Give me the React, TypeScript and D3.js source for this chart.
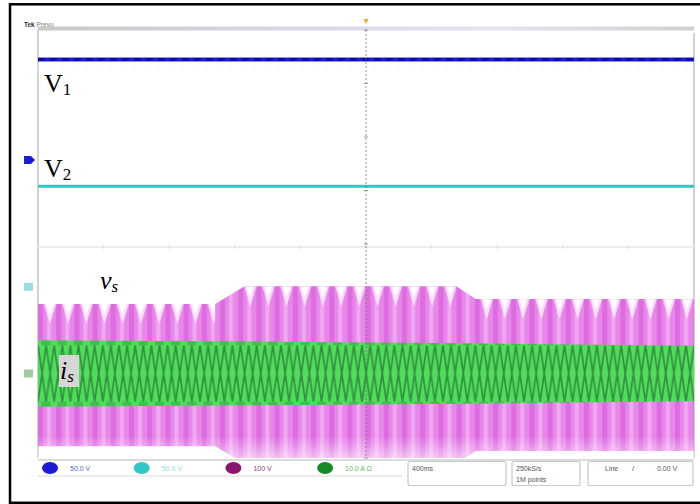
import React from 'react';
import * as d3 from 'd3';

// ---------------- data ----------------
const divisionsX = [0, 1, 2, 3, 4, 5, 6, 7, 8, 9, 10];
const divisionsY = [-4, -3, -2, -1, 0, 1, 2, 3, 4];
const secondsPerDiv = 0.4;

const channelIds = ['1', '2', '3', '4'];
const channelScaleLabels = ['50.0 V', '50.0 V', '100 V', '10.0 A \u03A9'];
const channelUnitsPerDiv = [50, 50, 100, 10];
const channelOffsetDiv = [1.57, -0.8, -2.45, -2.42];

const v1Times = [0, 4];
const v1Volts = [94, 94];
const v2Times = [0, 4];
const v2Volts = [94, 94];
const vsTimes = [0, 1.08, 1.26, 2.55, 2.67, 4];
const vsPeakVolts = [133, 133, 166, 166, 142, 142];
const isTimes = [0, 2, 4];
const isPeakAmps = [6.2, 5.8, 5.2];

const headerLabel = 'Tek Prevu';
const timebaseLabel = '400ms';
const acquisitionLabels = ['250kS/s', '1M points'];
const triggerLabels = ['Line', '/', '0.00 V'];

// ---------------- styles ----------------
const W = 700;
const H = 504;
const PLOT = { left: 38, right: 694, top: 30, bottom: 458 };
const chColors = ['#1c1cd6', '#33c6c6', '#8a1670', '#168a24'];
const chTextColors = ['#5566d8', '#86dede', '#8a3a80', '#5cba5c'];
const serif = '"Liberation Serif", "Times New Roman", serif';
const sans = '"Liberation Sans", Arial, sans-serif';

export default function App() {
  const x = d3
    .scaleLinear()
    .domain([0, divisionsX[divisionsX.length - 1] * secondsPerDiv])
    .range([PLOT.left, PLOT.right]);
  const y = d3
    .scaleLinear()
    .domain([divisionsY[0], divisionsY[divisionsY.length - 1]])
    .range([PLOT.bottom, PLOT.top]);
  const yCh = (ch: number, v: number) =>
    y(channelOffsetDiv[ch] + v / channelUnitsPerDiv[ch]);

  const line = (times: number[], vals: number[], ch: number) =>
    d3
      .line<number>()
      .x((_, i) => x(times[i]))
      .y((v) => yCh(ch, v))(vals) || '';

  const vsIdx = vsTimes.map((_, i) => i);
  const vsArea =
    d3
      .area<number>()
      .x((i) => x(vsTimes[i]))
      .y0((i) => yCh(2, -vsPeakVolts[i]))
      .y1((i) => yCh(2, vsPeakVolts[i]))(vsIdx) || '';

  const isIdx = isTimes.map((_, i) => i);
  const isArea =
    d3
      .area<number>()
      .x((i) => x(isTimes[i]))
      .y0((i) => yCh(3, -isPeakAmps[i]))
      .y1((i) => yCh(3, isPeakAmps[i]))
      .curve(d3.curveMonotoneX)(isIdx) || '';

  // flat segments of the vs envelope for the top-edge notch texture
  const flatSegs: { x0: number; x1: number; top: number }[] = [];
  for (let i = 0; i < vsTimes.length - 1; i++) {
    if (vsPeakVolts[i] === vsPeakVolts[i + 1]) {
      flatSegs.push({
        x0: x(vsTimes[i]),
        x1: x(vsTimes[i + 1]),
        top: yCh(2, vsPeakVolts[i]),
      });
    }
  }

  const cx = x(divisionsX[5] * secondsPerDiv);
  const cy = y(0);
  const isTop = yCh(3, isPeakAmps[0]);
  const isBottom = yCh(3, -isPeakAmps[0]);
  const isH = isBottom - isTop;

  const rowY = 468;

  return (
    <svg
      width={W}
      height={H}
      style={{ position: 'absolute', left: 0, top: 0, background: '#fff' }}
      xmlns="http://www.w3.org/2000/svg"
    >
      <defs>
        <clipPath id="plotClip">
          <rect
            x={PLOT.left}
            y={PLOT.top}
            width={PLOT.right - PLOT.left}
            height={PLOT.bottom - PLOT.top}
          />
        </clipPath>
        <pattern id="vsStripe" patternUnits="userSpaceOnUse" x={PLOT.left} y={0} width={18.2} height={10}>
          <rect width={18.2} height={10} fill="#e886ea" />
          <rect x={0} width={5} height={10} fill="#dc6ce0" />
          <rect x={9} width={4} height={10} fill="#f4c0f4" opacity={0.6} />
        </pattern>
        {flatSegs.map((s, i) => (
          <pattern
            key={i}
            id={`notch${i}`}
            patternUnits="userSpaceOnUse"
            x={PLOT.left}
            y={s.top}
            width={18.2}
            height={400}
          >
            <polygon points="6,0 18.2,0 12,20" fill="#ffffff" opacity={0.7} />
            <polygon points="8,0 16,0 12,10" fill="#ffffff" />
          </pattern>
        ))}
        <linearGradient id="bottomFade" x1="0" y1="0" x2="0" y2="1">
          <stop offset="0" stopColor="#fff" stopOpacity={0} />
          <stop offset="1" stopColor="#fff" stopOpacity={0.55} />
        </linearGradient>
        <pattern id="isTex" patternUnits="userSpaceOnUse" x={PLOT.left} y={isTop} width={16.2} height={isH}>
          <rect width={16.2} height={isH} fill="#52dc5c" />
          <path
            d={`M0,5 L8.1,${isH - 5} L16.2,5 M0,${isH - 5} L8.1,5 L16.2,${isH - 5}`}
            stroke="#30913e"
            strokeWidth={1.7}
            fill="none"
          />
          <rect x={3.5} y={0} width={9} height={5} fill="#34963f" opacity={0.45} />
          <rect x={3.5} y={isH - 5} width={9} height={5} fill="#34963f" opacity={0.45} />
        </pattern>
        <linearGradient id="topBar" x1="0" y1="0" x2="1" y2="0">
          <stop offset="0" stopColor="#c8c8c8" />
          <stop offset="0.45" stopColor="#dcd8ea" />
          <stop offset="0.7" stopColor="#e6e2f0" />
          <stop offset="1" stopColor="#d0d0d0" />
        </linearGradient>
      </defs>

      {/* outer frame */}
      <rect x={10} y={4.3} width={700} height={498.5} fill="#fff" stroke="#000" strokeWidth={2.5} />

      {/* header */}
      <text x={24} y={27} fontFamily={sans} fontSize={6.5} fill="#333">
        <tspan fontWeight="bold">Tek</tspan>
        <tspan fill="#777"> {headerLabel.split(' ')[1]}</tspan>
      </text>
      <rect x={PLOT.left} y={26.5} width={PLOT.right - PLOT.left} height={4} fill="url(#topBar)" />
      <polygon points={`${cx - 2.5},19 ${cx + 2.5},19 ${cx},24`} fill="#f0a828" />

      {/* plot borders */}
      <line x1={PLOT.left} y1={PLOT.top} x2={PLOT.left} y2={PLOT.bottom} stroke="#c4c4c4" strokeWidth={1.5} />
      <line x1={PLOT.right} y1={PLOT.top + 3} x2={PLOT.right} y2={PLOT.bottom} stroke="#c4c4c4" strokeWidth={1.5} />

      {/* center horizontal graticule */}
      <line x1={PLOT.left} y1={cy + 3} x2={PLOT.right} y2={cy + 3} stroke="#ececec" strokeWidth={2} />
      {divisionsX.map((d) => (
        <line
          key={d}
          x1={x(d * secondsPerDiv)}
          x2={x(d * secondsPerDiv)}
          y1={cy + 1}
          y2={cy + 5}
          stroke="#dcdcdc"
          strokeWidth={1}
        />
      ))}
      {/* faint dotted row under V1 */}
      <line x1={PLOT.left} y1={70} x2={PLOT.right} y2={70} stroke="#f0f3f5" strokeWidth={1.5} strokeDasharray="2,10" />

      {/* traces */}
      <g clipPath="url(#plotClip)">
        <path d={vsArea} fill="url(#vsStripe)" />
        {flatSegs.map((s, i) => (
          <rect key={i} x={s.x0} y={s.top} width={s.x1 - s.x0} height={22} fill={`url(#notch${i})`} />
        ))}
        <rect x={PLOT.left} y={PLOT.bottom - 22} width={PLOT.right - PLOT.left} height={22} fill="url(#bottomFade)" />
        <path d={isArea} fill="url(#isTex)" />

        <path d={line(v1Times, v1Volts, 0)} stroke={chColors[0]} strokeWidth={4} fill="none" />
        <path
          d={line(v1Times, v1Volts, 0)}
          stroke="#0a0a96"
          strokeWidth={2.2}
          strokeDasharray="7,5"
          fill="none"
        />
        <path d={line(v2Times, v2Volts, 1)} stroke={chColors[1]} strokeWidth={3} fill="none" />
      </g>

      {/* center vertical graticule */}
      <line x1={cx} y1={PLOT.top} x2={cx} y2={PLOT.bottom} stroke="#6a6a6a" strokeWidth={1} strokeDasharray="2,2" opacity={0.7} />
      {divisionsY.map((d) => (
        <line key={d} x1={cx - 2} x2={cx + 2} y1={y(d)} y2={y(d)} stroke="#999" strokeWidth={1} />
      ))}

      {/* channel ground markers */}
      <path
        d={`M24,${yCh(0, 0) - 4} L31,${yCh(0, 0) - 4} L35,${yCh(0, 0)} L31,${yCh(0, 0) + 4} L24,${yCh(0, 0) + 4} Z`}
        fill={chColors[0]}
      />
      <rect x={24} y={yCh(1, 0) - 4} width={9} height={8} fill="#9edce4" />
      <rect x={24} y={yCh(3, 0) - 4} width={9} height={8} fill="#a0cca0" />

      {/* trace labels */}
      <text x={44} y={92} fontFamily={serif} fontSize={26} fill="#000">
        V<tspan fontSize={17} dy={3}>1</tspan>
      </text>
      <text x={44} y={177} fontFamily={serif} fontSize={26} fill="#000">
        V<tspan fontSize={17} dy={3}>2</tspan>
      </text>
      <text x={100} y={289} fontFamily={serif} fontStyle="italic" fontSize={26} fill="#000">
        v<tspan fontSize={17} dy={3}>s</tspan>
      </text>
      <rect x={59} y={355} width={20} height={32} fill="#d6d6d6" />
      <text x={60} y={379} fontFamily={serif} fontStyle="italic" fontSize={26} fill="#000">
        i<tspan fontSize={17} dy={3}>s</tspan>
      </text>

      {/* status row */}
      <line x1={PLOT.left} y1={PLOT.bottom + 2} x2={PLOT.right} y2={PLOT.bottom + 2} stroke="#cfcfcf" strokeWidth={1.5} />
      <line x1={PLOT.left} y1={476} x2={402} y2={476} stroke="#dadada" strokeWidth={1} />
      {channelIds.map((id, i) => {
        const px = 50 + i * 91.7;
        return (
          <g key={id}>
            <ellipse cx={px} cy={rowY} rx={8} ry={6} fill={chColors[i]} />
            <text x={px + 20} y={rowY + 2.5} fontFamily={sans} fontSize={7} fill={chTextColors[i]}>
              {channelScaleLabels[i]}
            </text>
          </g>
        );
      })}
      <rect x={408} y={461.5} width={98} height={24} fill="#fff" stroke="#c8c8c8" strokeWidth={1.2} rx={2} />
      <text x={412} y={471} fontFamily={sans} fontSize={7} fill="#555">
        {timebaseLabel}
      </text>
      <rect x={512} y={461.5} width={68} height={24} fill="#fff" stroke="#c8c8c8" strokeWidth={1.2} rx={2} />
      <text x={516} y={471} fontFamily={sans} fontSize={7} fill="#555">
        {acquisitionLabels[0]}
      </text>
      <text x={516} y={482} fontFamily={sans} fontSize={7} fill="#555">
        {acquisitionLabels[1]}
      </text>
      <rect x={588} y={461.5} width={105} height={24} fill="#fff" stroke="#c8c8c8" strokeWidth={1.2} rx={2} />
      <text x={605} y={471} fontFamily={sans} fontSize={7} fill="#555">
        {triggerLabels[0]}
      </text>
      <text x={632} y={471} fontFamily={sans} fontSize={8} fill="#555">
        {triggerLabels[1]}
      </text>
      <text x={657} y={471} fontFamily={sans} fontSize={7} fill="#555">
        {triggerLabels[2]}
      </text>
    </svg>
  );
}
